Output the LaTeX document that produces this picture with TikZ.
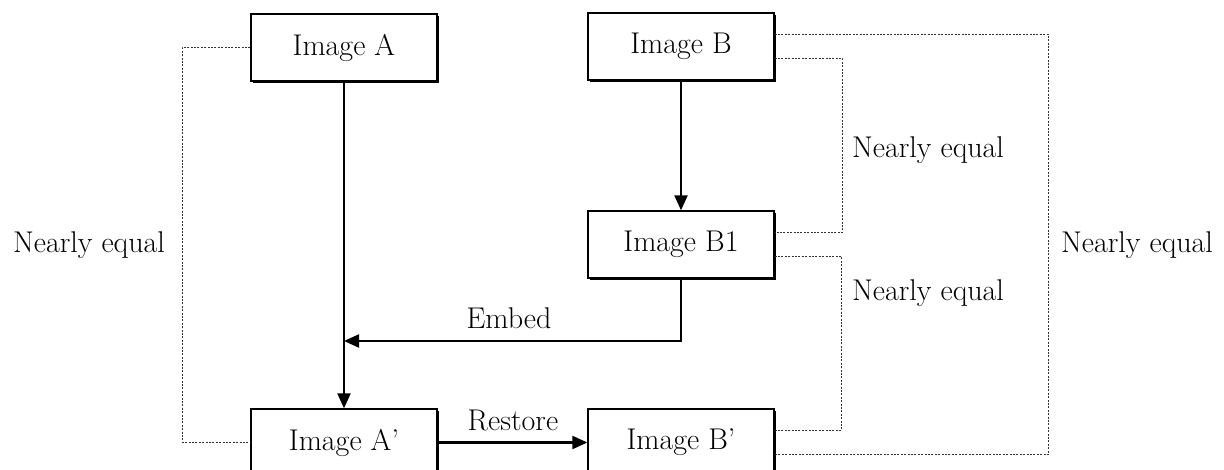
\documentclass[tikz,border=0pt]{standalone}
\usepackage{fontspec}
\usetikzlibrary{arrows.meta,shadows}
\begin{document}
\begin{tikzpicture}[x=1pt,y=-1pt,
  imgbox/.style={draw=black,line width=1.3pt,fill=white,minimum width=186pt,minimum height=67pt,inner sep=0pt,
    font=\fontsize{30}{36}\selectfont,
    drop shadow={shadow xshift=1.6pt,shadow yshift=-1.6pt,fill=black,opacity=1}},
  lbl/.style={font=\fontsize{30}{36}\selectfont,inner sep=0pt},
  flow/.style={line width=2.2pt,-{Triangle[length=15pt,width=13pt]}},
  thinflow/.style={line width=1.2pt},
  near/.style={draw=black!80,line width=1.6pt,dash pattern=on 2pt off 1.4pt}]
\useasboundingbox (0,0) rectangle (1224,470);
\node[imgbox] (A) at (344,47.5) {Image A};
\node[imgbox] (B) at (681,46.5) {Image B};
\node[imgbox] (B1) at (681,244.5) {Image B1};
\node[imgbox] (Ap) at (344,442.5) {Image A’};
\node[imgbox] (Bp) at (681,442.5) {Image B’};
\coordinate (emb) at (344,341);
% labels
\node[lbl] (l1) at (89,245) {Nearly equal};
\node[lbl] (l2) at (1137,245) {Nearly equal};
\node[lbl] (l3) at (928,150) {Nearly equal};
\node[lbl] (l4) at (928,293) {Nearly equal};
% dotted connectors
\draw[near] (A.west) -- ++(-68,0) |- (Ap.west);
\draw[near] ([yshift=12pt]B.east) -- ++(274,0) |- ([yshift=-12pt]Bp.east);
\draw[near] ([yshift=-12pt]B.east) -- ++(68,0) |- ([yshift=12pt]B1.east);
\draw[near] ([yshift=-12pt]B1.east) -- ++(67,0) |- ([yshift=12pt]Bp.east);
% flows
\draw[flow] (A.south) -- (Ap.north);
\draw[flow] (B.south) -- (B1.north);
\draw[thinflow] (B1.south) |- ([xshift=20pt]emb);
\draw[flow] ([xshift=20pt]emb) -- (emb);
\node[lbl] (emblbl) at (509,318) {Embed};
\draw[flow] (Ap.east) -- (Bp.west);
\node[lbl] (reslbl) at (513,420) {Restore};
\end{tikzpicture}
\end{document}
